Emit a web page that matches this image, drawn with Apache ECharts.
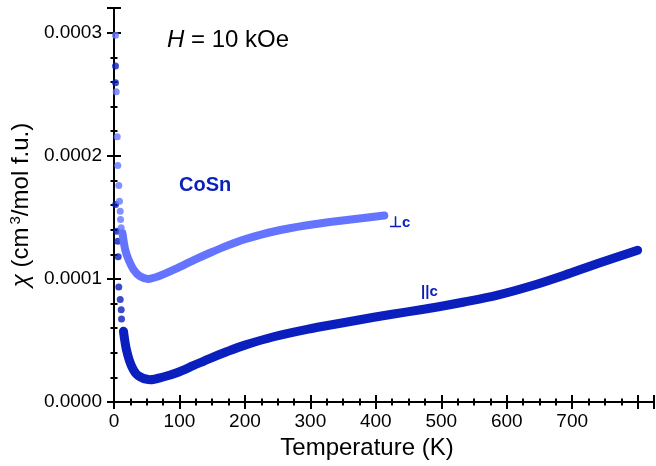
<!DOCTYPE html>
<html>
<head>
<meta charset="utf-8">
<script src="https://cdn.jsdelivr.net/npm/echarts@6/dist/echarts.min.js"></script>
<style>
html,body{margin:0;padding:0;background:#fff;}
#c{width:656px;height:466px;}
</style>
</head>
<body>
<div id="c"></div>
<script>
// Temperatures (K) and susceptibility (units of 1e-4 cm^3/mol f.u.)
const perpSparseT   = [2.3, 3.4, 4.9, 5.8, 7.3, 8.4, 9.5, 10, 11];
const perpSparseChi = [2.978, 2.52, 2.154, 1.921, 1.759, 1.631, 1.55, 1.482, 1.415];
const perpT   = [13, 17, 22, 30, 40, 52, 70, 96, 121, 147, 173, 200, 244, 295, 346, 413];
const perpChi = [1.37, 1.24, 1.16, 1.075, 1.02, 1.0, 1.025, 1.085, 1.15, 1.212, 1.27, 1.322, 1.385, 1.435, 1.472, 1.515];

const parSparseT   = [2.3, 2.3, 2.5, 4.3, 5.8, 6.4, 7.3, 9.5, 11, 11.5];
const parSparseChi = [2.729, 2.593, 1.604, 1.387, 1.306, 1.179, 0.935, 0.832, 0.75, 0.675];
const parT   = [14.5, 19, 27, 37, 55, 75, 96, 121, 147, 173, 200, 244, 295, 346, 397, 448, 494, 535, 586, 637, 688, 739, 800];
const parChi = [0.574, 0.425, 0.29, 0.214, 0.181, 0.203, 0.238, 0.295, 0.355, 0.41, 0.462, 0.53, 0.59, 0.64, 0.688, 0.732, 0.772, 0.812, 0.868, 0.942, 1.03, 1.125, 1.233];

const xTicks = {min: 0, max: 825, interval: 100, lastLabel: 700};
const yTicks = {min: 0, max: 0.00032, interval: 0.0001};

const DARK = '#0a1fbe';
const LIGHT = '#6474ff';
const FONT = '"Liberation Sans", Arial, Helvetica, sans-serif';

function pairs(ts, cs){ return ts.map((t,i)=>[t, cs[i]*1e-4]); }

const axisLine = {show:true, lineStyle:{color:'#000', width:2}};
const tick = {show:true, inside:true, length:7, lineStyle:{color:'#000', width:2}};
const minor = (n)=>({show:true, splitNumber:n, length:3.5, lineStyle:{color:'#000', width:2}});

const chart = echarts.init(document.getElementById('c'), null, {renderer:'canvas'});
chart.setOption({
  animation:false,
  backgroundColor:'#fff',
  grid:{left:114, right:2, top:8, bottom:64},
  xAxis:[{
    type:'value', min:xTicks.min, max:xTicks.max, interval:xTicks.interval,
    position:'bottom',
    axisLine, axisTick:tick, minorTick:minor(4), splitLine:{show:false},
    axisLabel:{fontSize:19, color:'#000', fontFamily:FONT, margin:10, showMaxLabel:false,
      formatter:(v)=> v > xTicks.lastLabel ? '' : String(v)},
    name:'Temperature (K)', nameLocation:'middle', nameGap:29,
    nameTextStyle:{fontSize:24, color:'#000', fontFamily:FONT, padding:[0,34,0,0]}
  },{
    type:'value', min:xTicks.min, max:xTicks.max, interval:xTicks.interval,
    position:'top',
    axisLine, axisTick:tick, minorTick:minor(4), splitLine:{show:false},
    axisLabel:{show:false}
  }],
  yAxis:[{
    type:'value', min:yTicks.min, max:yTicks.max, interval:yTicks.interval,
    position:'left',
    axisLine, axisTick:tick, minorTick:minor(5), splitLine:{show:false},
    axisLabel:{fontSize:19, color:'#000', fontFamily:FONT, margin:12, showMaxLabel:false,
      formatter:(v)=>v.toFixed(4)},
    name:'{chi|χ} (cm{sup|3}/mol f.u.)', nameLocation:'middle', nameGap:76,
    nameTextStyle:{fontSize:24, color:'#000', fontFamily:FONT,
      rich:{chi:{fontSize:24, fontStyle:'italic', fontFamily:FONT},
            sup:{fontSize:15, verticalAlign:'top', padding:[0,0,10,3], fontFamily:FONT}}}
  },{
    type:'value', min:yTicks.min, max:yTicks.max, interval:yTicks.interval,
    position:'right',
    axisLine, axisTick:tick, minorTick:minor(5), splitLine:{show:false},
    axisLabel:{show:false}
  }],
  series:[
    {type:'line', data:pairs(parT, parChi), smooth:0.3, showSymbol:false, symbol:'none',
     lineStyle:{color:DARK, width:9, cap:'round', join:'round'}, z:2},
    {type:'scatter', data:pairs(parSparseT, parSparseChi), symbolSize:7,
     itemStyle:{color:DARK}, z:2},
    {type:'line', data:pairs(perpT, perpChi), smooth:0.3, showSymbol:false, symbol:'none',
     lineStyle:{color:LIGHT, width:8, cap:'round', join:'round'}, z:3},
    {type:'scatter', data:pairs(perpSparseT, perpSparseChi), symbolSize:7,
     itemStyle:{color:LIGHT}, z:3}
  ],
  graphic:[
    {type:'text', left:167, top:28, style:{
      text:'{i|H} = 10 kOe', fill:'#000', font:'24px '+FONT,
      rich:{i:{fontStyle:'italic', fontSize:24, fontFamily:FONT, fill:'#000'}}}},
    {type:'text', left:179, top:175, style:{text:'CoSn', fill:DARK, font:'bold 20px '+FONT}},
    {type:'text', left:389, top:215, style:{text:'⊥c', fill:DARK, font:'bold 15px '+FONT}},
    {type:'text', left:421, top:284, style:{text:'||c', fill:DARK, font:'bold 15px '+FONT}}
  ]
});
</script>
</body>
</html>
